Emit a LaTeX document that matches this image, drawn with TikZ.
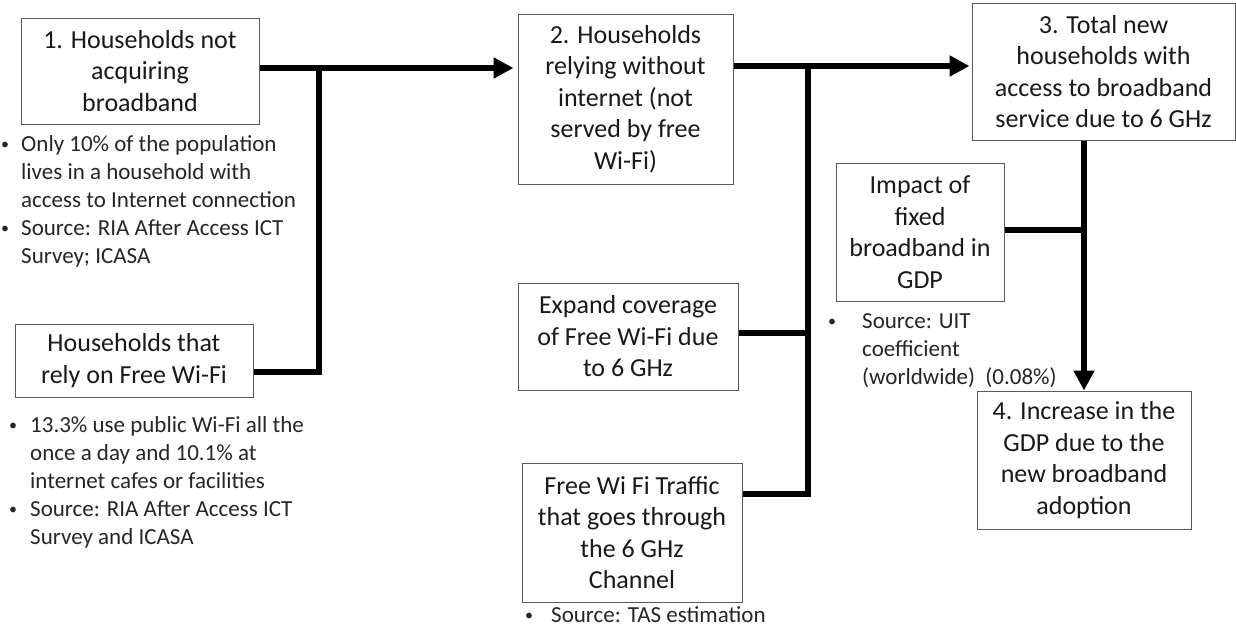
\documentclass[tikz,border=0pt]{standalone}
\usepackage{fontspec}
\setmainfont{Carlito}
\usetikzlibrary{arrows.meta}

\tikzset{
  box/.style={draw=black!65, line width=1pt, fill=white, inner sep=0pt, align=center,
    text=black!90, font=\fontsize{26}{31.5}\selectfont},
  conn/.style={line width=6pt, line join=miter, draw=black},
  flow/.style={conn, -{Triangle[length=20pt,width=20pt]}},
  note/.style={anchor=west, inner sep=0pt, text=black!85, text height=16pt, text depth=5pt,
    font=\fontsize{23}{28}\selectfont},
  dot/.style={inner sep=0pt, text=black!85, font=\fontsize{16}{16}\selectfont}
}

\begin{document}
\begin{tikzpicture}[x=1pt, y=-1pt]
\useasboundingbox[fill=white] (0,0) rectangle (1236,629);

% boxes
\node[box, minimum width=238pt, minimum height=106pt] (hh1) at (140,71)
  {1. Households not\\acquiring\\broadband};
\node[box, minimum width=238pt, minimum height=73pt] (rely) at (134,360.5)
  {Households that\\rely on Free Wi-Fi};
\node[box, minimum width=215pt, minimum height=170pt] (hh2) at (625.5,99)
  {2. Households\\relying without\\internet (not\\served by free\\Wi-Fi)};
\node[box, minimum width=220pt, minimum height=107pt] (expand) at (628,336.5)
  {Expand coverage\\of Free Wi-Fi due\\to 6 GHz};
\node[box, minimum width=220pt, minimum height=139pt] (traffic) at (632,532.5)
  {Free Wi Fi Traffic\\that goes through\\the 6 GHz\\Channel};
\node[box, minimum width=263pt, minimum height=137pt] (hh3) at (1103.5,71.5)
  {3. Total new\\households with\\access to broadband\\service due to 6 GHz};
\node[box, minimum width=168pt, minimum height=138pt] (impact) at (920,232)
  {Impact of\\fixed\\broadband in\\GDP};
\node[box, minimum width=214pt, minimum height=138pt] (gdp) at (1084,460)
  {4. Increase in the\\GDP due to the\\new broadband\\adoption};

% junction points
\coordinate (j1) at (319,68);
\coordinate (j2) at (808,66);

% connectors
\draw[flow, shorten >=4pt] ([yshift=3pt]hh1.east) -- ([yshift=3pt]hh1.east -| hh2.west);
\draw[conn] ([yshift=-11.5pt]rely.east) -| (j1);

\draw[flow, shorten >=2pt] ([yshift=33pt]hh2.east) -- ([yshift=33pt]hh2.east -| hh3.west);
\draw[conn] ([yshift=3.5pt]expand.east) -- ([yshift=3.5pt]expand.east -| j2);
\draw[conn] ([yshift=38.5pt]traffic.east) -| (j2);

\draw[flow] (hh3.south -| gdp.north) -- (gdp.north);
\draw[conn] ([yshift=2pt]impact.east) -- ([yshift=2pt]impact.east -| gdp.north);

% notes under the first box
\node[dot] (d1a) at (5,146) {\textbullet};
\node[dot] (d1b) at (5,230) {\textbullet};
\foreach \t [count=\i] in {Only 10\% of the population, lives in a household with,
    access to Internet connection, Source: RIA After Access ICT, Survey; ICASA}
  \node[note] (n1-\i) at (21,{146+28*(\i-1)}) {\t};

% notes under the free Wi-Fi box
\node[dot] (d2a) at (13,427) {\textbullet};
\node[dot] (d2b) at (13,511) {\textbullet};
\foreach \t [count=\i] in {13.3\% use public Wi-Fi all the, once a day and 10.1\% at,
    internet cafes or facilities, Source: RIA After Access ICT, Survey and ICASA}
  \node[note] (n2-\i) at (30,{427+28*(\i-1)}) {\t};

% note under the impact box
\node[dot] (d3) at (832,323) {\textbullet};
\node[note] (n3-1) at (862,323) {Source: UIT};
\node[note] (n3-2) at (862,351) {coefficient};
\node[note] (n3-3) at (862,379) {(worldwide)\ \ (0.08\%)};

% note under the traffic box
\node[dot] (d4) at (529,617) {\textbullet};
\node[note] (n4) at (551,617) {Source: TAS estimation};
\end{tikzpicture}
\end{document}
